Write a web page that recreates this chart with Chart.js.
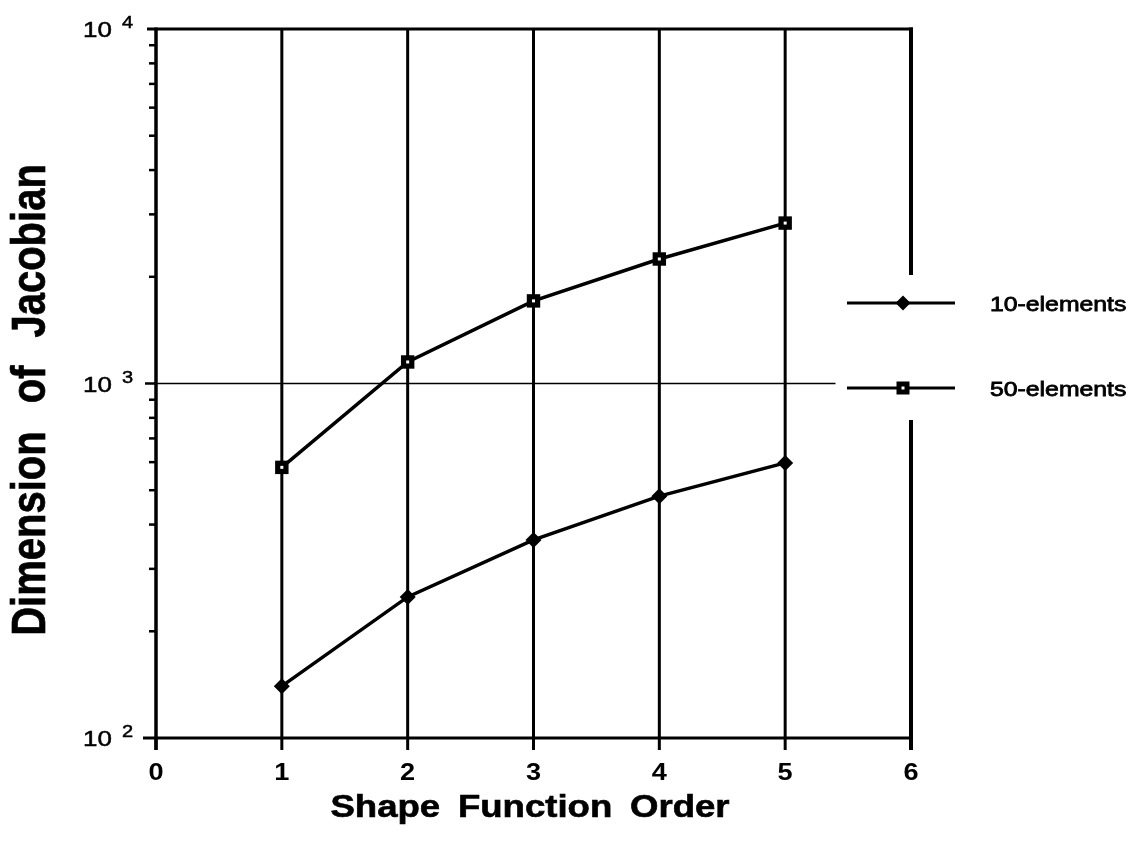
<!DOCTYPE html>
<html>
<head>
<meta charset="utf-8">
<script src="https://cdn.jsdelivr.net/npm/chart.js@4.4.0/dist/chart.umd.min.js"></script>
<style>
  html, body { margin: 0; padding: 0; background: #fff; }
  #wrap { width: 1135px; height: 855px; position: relative; }
</style>
</head>
<body>
<div id="wrap"><canvas id="c" width="1135" height="855"></canvas></div>
<script>
// Shape function order on the x axis, Jacobian dimension (log scale) on the y axis
const orders = [1, 2, 3, 4, 5];
const tenElements = [140, 250, 362, 481, 597];
const fiftyElements = [580, 1150, 1710, 2245, 2835];
const seriesNames = ['10-elements', '50-elements'];
const xTicks = [0, 1, 2, 3, 4, 5, 6];
const yDecades = [2, 3, 4];
const xTitleWords = ['Shape', 'Function', 'Order'];
const yTitleWords = ['Dimension', 'of', 'Jacobian'];

const FONT = '"Liberation Sans", Arial, Helvetica, sans-serif';
const STRETCH = 1.18;   // wide glyphs, as in the printed figure

function seg(ctx, x1, y1, x2, y2) {
  ctx.beginPath(); ctx.moveTo(x1, y1); ctx.lineTo(x2, y2); ctx.stroke();
}

function marker(ctx, kind, x, y) {
  ctx.fillStyle = '#000';
  ctx.beginPath();
  if (kind === 'diamond') {
    const r = 7.5;
    ctx.moveTo(x - r, y); ctx.lineTo(x, y - r); ctx.lineTo(x + r, y); ctx.lineTo(x, y + r);
    ctx.closePath(); ctx.fill();
  } else {
    const h = 6.5;
    ctx.rect(x - h, y - h, 2 * h, 2 * h); ctx.fill();
    ctx.fillStyle = '#fff';
    ctx.fillRect(x - 1.5, y - 1.5, 3, 3);
  }
}

// draws a row of words with wide gaps, centred on the origin of the current frame
function spacedWords(ctx, words, gap, bold) {
  const widths = words.map(w => ctx.measureText(w).width);
  const total = widths.reduce((s, w) => s + w, 0) + gap * (words.length - 1);
  let x = -total / 2;
  words.forEach((w, i) => {
    ctx.fillText(w, x, 0);
    if (bold) ctx.strokeText(w, x, 0);
    x += widths[i] + gap;
  });
}

const legendRows = [274, 359];       // offsets below the plot top
const gapTop = 246, gapBottom = 391; // right border is interrupted by the legend

const framePlugin = {
  id: 'frame',
  beforeDatasetsDraw(chart) {
    const { ctx, chartArea: a, scales: { x, y } } = chart;
    ctx.save();
    ctx.strokeStyle = '#000';
    ctx.lineCap = 'butt';

    // vertical grid lines at interior orders
    ctx.lineWidth = 3;
    xTicks.slice(1, -1).forEach(v => {
      const px = x.getPixelForValue(v);
      seg(ctx, px, a.top, px, a.bottom);
    });

    // horizontal reference line at 10^3
    const p3 = y.getPixelForValue(1000);
    ctx.lineWidth = 1.6;
    seg(ctx, a.left, p3, x.getPixelForValue(5.4), p3);
    ctx.lineWidth = 2.5;
    seg(ctx, a.left - 11, p3, a.left, p3);

    // top border and bottom axis
    ctx.lineWidth = 3;
    seg(ctx, a.left - 9, a.top, a.right + 2, a.top);
    seg(ctx, a.left - 13, a.bottom, a.right + 2, a.bottom);

    // left axis
    ctx.lineWidth = 3.5;
    seg(ctx, a.left, a.top - 1.5, a.left, a.bottom + 12);

    // right border, broken around the legend
    ctx.lineWidth = 4;
    seg(ctx, a.right, a.top - 1.5, a.right, a.top + gapTop);
    seg(ctx, a.right, a.top + gapBottom, a.right, a.bottom + 12);

    // minor log ticks on the y axis
    ctx.lineWidth = 2.5;
    yDecades.slice(0, -1).forEach(d => {
      for (let m = 2; m <= 9; m++) {
        const py = y.getPixelForValue(m * Math.pow(10, d));
        seg(ctx, a.left - 7, py, a.left, py);
      }
    });

    // x ticks
    ctx.lineWidth = 3;
    xTicks.forEach(v => {
      const px = x.getPixelForValue(v);
      seg(ctx, px, a.bottom, px, a.bottom + 12);
    });
    ctx.restore();
  },
  afterDatasetsDraw(chart) {
    const { ctx } = chart;
    ctx.save();
    ctx.fillStyle = '#fff';
    chart.getDatasetMeta(1).data.forEach(pt => ctx.fillRect(pt.x - 1.5, pt.y - 1.5, 3, 3));
    ctx.restore();
  },
  afterDraw(chart) {
    const { ctx, chartArea: a, scales: { x, y } } = chart;
    ctx.save();
    ctx.fillStyle = '#000';
    ctx.strokeStyle = '#000';

    // y tick labels: 10 with a raised exponent
    yDecades.forEach(d => {
      const py = y.getPixelForValue(Math.pow(10, d));
      ctx.save();
      ctx.translate(a.left - 44, py + 8);
      ctx.scale(STRETCH, 1);
      ctx.font = '22px ' + FONT;
      ctx.lineWidth = 0.5;
      ctx.textAlign = 'right';
      ctx.textBaseline = 'alphabetic';
      ctx.fillText('10', 0, 0);
      ctx.strokeText('10', 0, 0);
      ctx.restore();
      ctx.save();
      ctx.translate(a.left - 34, py - 1);
      ctx.scale(STRETCH, 1);
      ctx.font = '17px ' + FONT;
      ctx.lineWidth = 0.5;
      ctx.textAlign = 'left';
      ctx.fillText(String(d), 0, 0);
      ctx.strokeText(String(d), 0, 0);
      ctx.restore();
    });

    // x tick labels
    xTicks.forEach(v => {
      const px = x.getPixelForValue(v);
      ctx.save();
      ctx.translate(px, a.bottom + 42);
      ctx.scale(STRETCH, 1);
      ctx.font = 'bold 23px ' + FONT;
      ctx.textAlign = 'center';
      ctx.textBaseline = 'alphabetic';
      ctx.fillText(String(v), 0, 0);
      ctx.restore();
    });

    // x axis title
    ctx.save();
    ctx.translate(530, 817);
    ctx.scale(STRETCH, 1);
    ctx.font = 'bold 31px ' + FONT;
    ctx.lineWidth = 0.6;
    ctx.textAlign = 'left';
    ctx.textBaseline = 'alphabetic';
    spacedWords(ctx, xTitleWords, 15, true);
    ctx.restore();

    // y axis title
    ctx.save();
    ctx.translate(45, 400);
    ctx.scale(STRETCH, 1);
    ctx.rotate(-Math.PI / 2);
    ctx.font = 'bold 40px ' + FONT;
    ctx.lineWidth = 0.6;
    ctx.textAlign = 'left';
    ctx.textBaseline = 'alphabetic';
    spacedWords(ctx, yTitleWords, 28, true);
    ctx.restore();

    // legend
    chart.data.datasets.forEach((ds, i) => {
      const ly = a.top + legendRows[i];
      ctx.strokeStyle = '#000';
      ctx.lineWidth = 3.2;
      seg(ctx, a.right - 64, ly, a.right + 44, ly);
      marker(ctx, i === 0 ? 'diamond' : 'square', a.right - 8, ly);
      ctx.save();
      ctx.fillStyle = '#000';
      ctx.translate(a.right + 79, ly + 8);
      ctx.scale(STRETCH, 1);
      ctx.font = '21px ' + FONT;
      ctx.lineWidth = 0.8;
      ctx.textAlign = 'left';
      ctx.fillText(ds.label, 0, 0);
      ctx.strokeText(ds.label, 0, 0);
      ctx.restore();
    });
    ctx.restore();
  }
};

const toPoints = vals => orders.map((o, i) => ({ x: o, y: vals[i] }));

new Chart(document.getElementById('c'), {
  type: 'line',
  data: {
    datasets: [
      {
        label: seriesNames[0],
        data: toPoints(tenElements),
        borderColor: '#000',
        backgroundColor: '#000',
        borderWidth: 3.5,
        pointStyle: 'rectRot',
        pointRadius: 8,
        pointBorderWidth: 0,
        tension: 0
      },
      {
        label: seriesNames[1],
        data: toPoints(fiftyElements),
        borderColor: '#000',
        backgroundColor: '#000',
        borderWidth: 3.5,
        pointStyle: 'rect',
        pointRadius: 9.5,
        pointBorderWidth: 0,
        tension: 0
      }
    ]
  },
  options: {
    responsive: false,
    animation: false,
    layout: { padding: { left: 156, top: 29, right: 224, bottom: 117 } },
    plugins: { legend: { display: false }, tooltip: { enabled: false } },
    scales: {
      x: { type: 'linear', min: 0, max: 6, display: false },
      y: { type: 'logarithmic', min: 100, max: 10000, display: false }
    }
  },
  plugins: [framePlugin]
});
</script>
</body>
</html>
